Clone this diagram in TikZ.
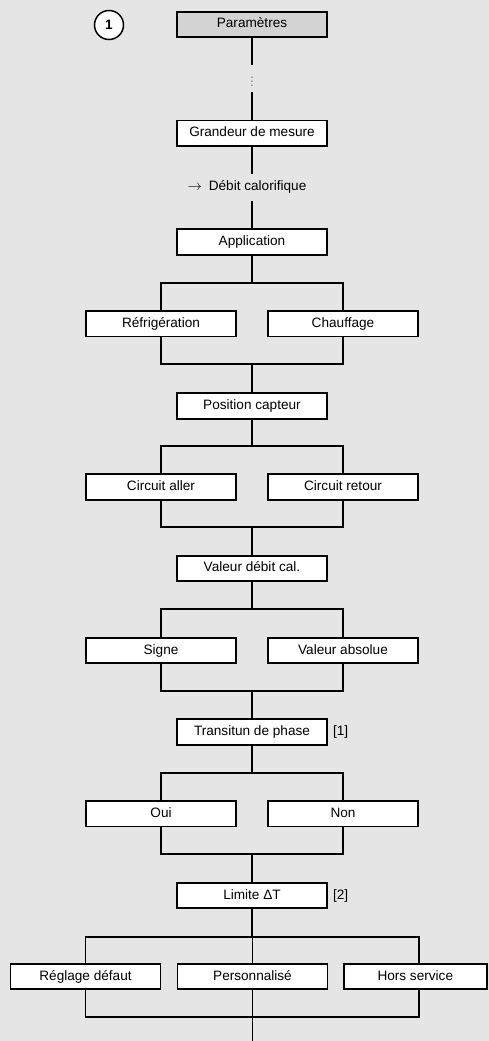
\documentclass[tikz,border=0pt]{standalone}
\usepackage{fontspec}
\setmainfont{Liberation Sans}
\usetikzlibrary{positioning}
\definecolor{bg}{HTML}{E5E5E5}
\definecolor{head}{HTML}{D3D3D3}
\tikzset{
  box/.style={draw, fill=white, line width=1.9pt, minimum width=150pt, minimum height=25.6pt, inner sep=0pt, text height=10pt, text depth=3pt},
  link/.style={line width=1.9pt}
}
\begin{document}
\begin{tikzpicture}[x=1pt, y=-1pt, font=\fontsize{13.6}{16}\selectfont]
\fill[bg](0,0) rectangle (489,1041);
\useasboundingbox (0,0) rectangle (489,1041);
\node[draw, circle, fill=white, line width=1.5pt, minimum size=29pt, inner sep=0pt, font=\fontsize{13.6}{16}\selectfont\bfseries] (num) at (109,25) {1};
\node[box, fill=head] (param) at (252,24.5) {Paramètres};
\node[minimum height=27pt, inner sep=0pt, text=gray] (dots) at (252,78.5) {$\vdots$};
\node[box] (grand) at (252,133.3) {Grandeur de mesure};
\node[minimum height=26.6pt, inner sep=0pt, text height=10pt, text depth=3pt] (flow) at (247,187.3) {$\rightarrow$\enspace Débit calorifique};
\node[box] (appl) at (252,242) {Application};
\node[box] (refr) at (161,323.7) {Réfrigération};
\node[box] (chauf) at (343,323.7) {Chauffage};
\node[box] (pos) at (252,405.8) {Position capteur};
\node[box] (aller) at (161,487) {Circuit aller};
\node[box] (retour) at (343,487) {Circuit retour};
\node[box] (val) at (252,568.4) {Valeur débit cal.};
\node[box] (signe) at (161,650.5) {Signe};
\node[box] (abs) at (343,650.5) {Valeur absolue};
\node[box] (trans) at (252,731.8) {Transitun de phase};
\node[right=4pt of trans.east, inner sep=1pt] (note1) {[1]};
\node[box] (oui) at (161,813.7) {Oui};
\node[box] (non) at (343,813.7) {Non};
\node[box] (lim) at (252,895.6) {Limite ΔT};
\node[right=4pt of lim.east, inner sep=1pt] (note2) {[2]};
\node[box] (reg) at (85.5,976.5) {Réglage défaut};
\node[box] (perso) at (252.5,976.5) {Personnalisé};
\node[box, minimum width=143pt] (hors) at (415.3,976.5) {Hors service};
\coordinate (end) at (252.5,1041);

\draw[link](param) -- (dots);
\draw[link](dots) -- (grand);
\draw[link](grand.south) -- (grand.south |- flow.north);
\draw[link](appl.north |- flow.south) -- (appl.north);
\foreach \p/\l/\r/\n in {appl/refr/chauf/pos, pos/aller/retour/val, val/signe/abs/trans, trans/oui/non/lim}
{
    \draw[link](\l.north) -- ++(0,-27.4) coordinate (t) -| (\r.north);
    \draw[link](\p.south) -- (\p.south |- t);
    \draw[link](\l.south) -- ++(0,26.3) coordinate (b) -| (\r.south);
    \draw[link](\n.north |- b) -- (\n.north);
}
\draw[link](reg.north) -- ++(0,-25.6) coordinate (t) -| ([xshift=3.7pt]hors.north);
\draw[link](lim.south) -- (lim.south |- t);
\draw[link](perso.north |- t) -- (perso.north);
\draw[link](reg.south) -- ++(0,26.6) coordinate (b) -| ([xshift=3.7pt]hors.south);
\draw[link](perso.south) -- (end);
\end{tikzpicture}
\end{document}
